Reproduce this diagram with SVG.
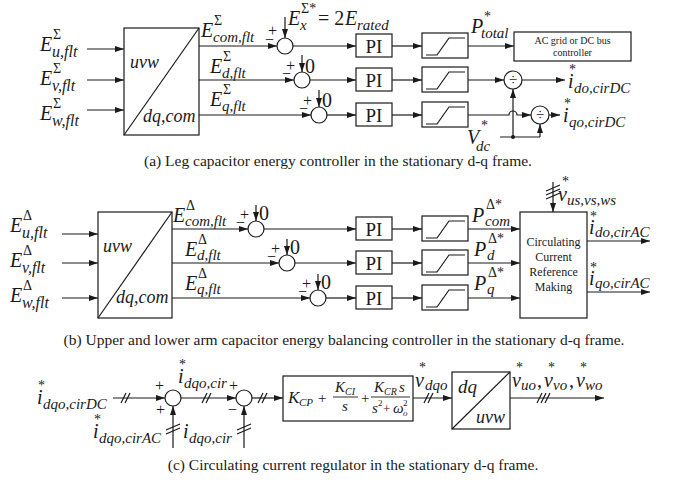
<svg xmlns="http://www.w3.org/2000/svg" width="674" height="483" viewBox="0 0 674 483">
<style>
text{font-family:"Liberation Serif","Times New Roman",serif;fill:#1a1a1a}
.m{font-style:italic;font-size:20px}
.sb{font-style:italic;font-size:15px}
.sp{font-style:normal;font-size:14px}
.r{font-style:normal;font-size:20px}
.pm{font-size:16px}
.cap{font-size:15.5px;text-anchor:middle}
.bx{fill:#fff;stroke:#1a1a1a;stroke-width:1.2}
.ln{fill:none;stroke:#1a1a1a;stroke-width:1.2}
.ar{fill:none;stroke:#1a1a1a;stroke-width:1.2;marker-end:url(#ah)}
.sm{font-size:10px;text-anchor:middle}
.cc{font-size:12px;text-anchor:middle}
.pi{font-size:19px;text-anchor:middle}
.dv{font-size:15px;text-anchor:middle}
.in{font-style:italic;font-size:16px}
</style>
<defs>
<marker id="ah" markerWidth="9" markerHeight="6" refX="9" refY="3" orient="auto" markerUnits="userSpaceOnUse"><path d="M0,0 L9,3 L0,6 z" fill="#1a1a1a"/></marker>
<g id="lim"><rect class="bx" x="0" y="0" width="46" height="25"/><polyline class="ln" points="4,22 15,22 27,5 43,5"/></g>
</defs>

<g id="connectors">
<line class="ar" x1="87" y1="49" x2="124" y2="49"/>
<line class="ar" x1="87" y1="80" x2="124" y2="80"/>
<line class="ar" x1="87" y1="110" x2="124" y2="110"/>
<line class="ar" x1="199" y1="46" x2="277" y2="46"/>
<line class="ar" x1="199" y1="80" x2="294" y2="80"/>
<line class="ar" x1="199" y1="115" x2="311" y2="115"/>
<line class="ar" x1="285" y1="17" x2="285" y2="38"/>
<line class="ar" x1="302" y1="55" x2="302" y2="72"/>
<line class="ar" x1="319" y1="90" x2="319" y2="107"/>
<line class="ar" x1="293" y1="46" x2="356" y2="46"/>
<line class="ar" x1="310" y1="80" x2="356" y2="80"/>
<line class="ar" x1="327" y1="115" x2="356" y2="115"/>
<line class="ar" x1="392" y1="46" x2="422" y2="46"/>
<line class="ar" x1="392" y1="80" x2="422" y2="80"/>
<line class="ar" x1="392" y1="115" x2="422" y2="115"/>
<line class="ar" x1="468" y1="46" x2="514" y2="46"/>
<line class="ar" x1="468" y1="80" x2="504" y2="80"/>
<path class="ar" d="M468,115 H509 A4,4 0 0 1 517,115 H531"/>
<line class="ar" x1="522" y1="80" x2="565" y2="80"/>
<line class="ar" x1="549" y1="115" x2="560" y2="115"/>
<line class="ln" x1="500" y1="137" x2="540" y2="137"/>
<line class="ar" x1="513" y1="137" x2="513" y2="89"/>
<line class="ar" x1="540" y1="137" x2="540" y2="124"/>
<circle cx="513" cy="137" r="2" fill="#1a1a1a"/>
<line class="ar" x1="62" y1="234" x2="98" y2="234"/>
<line class="ar" x1="62" y1="263" x2="98" y2="263"/>
<line class="ar" x1="62" y1="298" x2="98" y2="298"/>
<line class="ar" x1="172" y1="229" x2="248" y2="229"/>
<line class="ar" x1="172" y1="263" x2="279" y2="263"/>
<line class="ar" x1="172" y1="298" x2="310" y2="298"/>
<line class="ar" x1="256" y1="205" x2="256" y2="221"/>
<line class="ar" x1="287" y1="239" x2="287" y2="255"/>
<line class="ar" x1="318" y1="274" x2="318" y2="290"/>
<line class="ar" x1="264" y1="229" x2="356" y2="229"/>
<line class="ar" x1="295" y1="263" x2="356" y2="263"/>
<line class="ar" x1="326" y1="298" x2="356" y2="298"/>
<line class="ar" x1="392" y1="229" x2="422" y2="229"/>
<line class="ar" x1="392" y1="263" x2="422" y2="263"/>
<line class="ar" x1="392" y1="298" x2="422" y2="298"/>
<line class="ar" x1="468" y1="229" x2="520" y2="229"/>
<line class="ar" x1="468" y1="263" x2="520" y2="263"/>
<line class="ar" x1="468" y1="298" x2="520" y2="298"/>
<line class="ar" x1="553" y1="182" x2="553" y2="212"/>
<path class="ln" d="M546,191 L560,185 M546,195 L560,189 M546,199 L560,193"/>
<line class="ar" x1="587" y1="241" x2="650" y2="241"/>
<line class="ar" x1="587" y1="292" x2="650" y2="292"/>
<line class="ar" x1="113" y1="398" x2="165" y2="398"/>
<path class="ln" d="M121,403 L126,393 M125,403 L130,393"/>
<line class="ar" x1="173" y1="448" x2="173" y2="406"/>
<path class="ln" d="M166,430 L180,424 M166,434 L180,428"/>
<line class="ar" x1="181" y1="398" x2="236" y2="398"/>
<path class="ln" d="M202,403 L207,393 M206,403 L211,393"/>
<line class="ar" x1="244" y1="448" x2="244" y2="406"/>
<path class="ln" d="M237,430 L251,424 M237,434 L251,428"/>
<line class="ar" x1="252" y1="398" x2="283" y2="398"/>
<path class="ln" d="M258,403 L263,393 M262,403 L267,393"/>
<line class="ar" x1="413" y1="398" x2="452" y2="398"/>
<path class="ln" d="M424,403 L429,393 M428,403 L433,393"/>
<line class="ar" x1="510" y1="398" x2="604" y2="398"/>
<path class="ln" d="M537,403 L542,393 M541,403 L546,393 M545,403 L550,393"/>
</g>

<g id="a-inputs">
<text class="m" x="40" y="51">E<tspan class="sp" x="53" y="39">Σ</tspan><tspan class="in" x="52" y="57">u,flt</tspan></text>
<text class="m" x="40" y="85">E<tspan class="sp" x="53" y="73">Σ</tspan><tspan class="in" x="52" y="91">v,flt</tspan></text>
<text class="m" x="40" y="120">E<tspan class="sp" x="53" y="108">Σ</tspan><tspan class="in" x="52" y="126">w,flt</tspan></text>
</g>
<g id="a-uvw">
<rect class="bx" x="124" y="28" width="75" height="107"/>
<line class="ln" x1="124" y1="135" x2="199" y2="28"/>
<text class="m" x="130" y="68" style="font-size:18px">uvw</text>
<text class="m" x="143" y="122" style="font-size:18px">dq,com</text>
</g>
<g id="a-labels">
<text class="m" x="201" y="37">E<tspan class="sp" x="214" y="25">Σ</tspan><tspan class="sb" x="213" y="42">com,flt</tspan></text>
<text class="m" x="210" y="73">E<tspan class="sp" x="223" y="61">Σ</tspan><tspan class="sb" x="222" y="78">d,flt</tspan></text>
<text class="m" x="210" y="106">E<tspan class="sp" x="223" y="94">Σ</tspan><tspan class="sb" x="222" y="111">q,flt</tspan></text>
</g>
<g id="a-sum1">
<circle class="bx" cx="285" cy="46" r="8"/>
<text class="pm"><tspan x="268" y="36">+</tspan><tspan x="265" y="45">−</tspan></text>
<text class="m" x="288" y="25">E<tspan class="sp" x="301" y="13">Σ*</tspan><tspan class="sb" x="300" y="30">x</tspan><tspan class="r" x="318" y="25">= 2</tspan><tspan x="345" y="25">E</tspan><tspan class="sb" x="357" y="30">rated</tspan></text>
</g>
<g id="a-sum2">
<circle class="bx" cx="302" cy="80" r="8"/>
<text class="pm"><tspan x="286" y="71">+</tspan><tspan x="282" y="79">−</tspan></text>
<text class="r" x="305" y="73">0</text>
</g>
<g id="a-sum3">
<circle class="bx" cx="319" cy="115" r="8"/>
<text class="pm"><tspan x="303" y="106">+</tspan><tspan x="299" y="114">−</tspan></text>
<text class="r" x="322" y="107">0</text>
</g>
<g id="a-pi1"><rect class="bx" x="356" y="34" width="36" height="23"/><text class="pi" x="374" y="53">PI</text></g>
<g id="a-pi2"><rect class="bx" x="356" y="68" width="36" height="23"/><text class="pi" x="374" y="87">PI</text></g>
<g id="a-pi3"><rect class="bx" x="356" y="103" width="36" height="23"/><text class="pi" x="374" y="122">PI</text></g>
<g id="a-lim1"><use href="#lim" x="422" y="33"/></g>
<g id="a-lim2"><use href="#lim" x="422" y="67"/></g>
<g id="a-lim3"><use href="#lim" x="422" y="102"/></g>
<g id="a-ptotal"><text class="m" x="471" y="33">P<tspan class="sp" x="484" y="21">*</tspan><tspan class="sb" x="481" y="38">total</tspan></text></g>
<g id="a-grid">
<rect class="bx" x="514" y="32" width="117" height="29"/>
<text class="sm" x="572.5" y="44">AC grid or DC bus</text>
<text class="sm" x="572.5" y="56">controller</text>
</g>
<g id="a-div1"><circle class="bx" cx="513" cy="80" r="9"/><text class="dv" x="513" y="85">÷</text></g>
<g id="a-div2"><circle class="bx" cx="540" cy="115" r="9"/><text class="dv" x="540" y="120">÷</text></g>
<g id="a-out">
<text class="m" x="568" y="88">i<tspan class="sp" x="569" y="74">*</tspan><tspan class="sb" x="574" y="93">do,cirDC</tspan></text>
<text class="m" x="563" y="122">i<tspan class="sp" x="564" y="108">*</tspan><tspan class="sb" x="569" y="127">qo,cirDC</tspan></text>
</g>
<g id="a-vdc"><text class="m" x="467" y="144">V<tspan class="sp" x="481" y="130">*</tspan><tspan class="sb" x="476" y="151">dc</tspan></text></g>
<text class="cap" x="338" y="166">(a) Leg capacitor energy controller in the stationary d-q frame.</text>

<g id="b-inputs">
<text class="m" x="10" y="232">E<tspan class="sp" x="23" y="220">Δ</tspan><tspan class="in" x="22" y="238">u,flt</tspan></text>
<text class="m" x="10" y="267">E<tspan class="sp" x="23" y="255">Δ</tspan><tspan class="in" x="22" y="273">v,flt</tspan></text>
<text class="m" x="10" y="302">E<tspan class="sp" x="23" y="290">Δ</tspan><tspan class="in" x="22" y="308">w,flt</tspan></text>
</g>
<g id="b-uvw">
<rect class="bx" x="98" y="212" width="74" height="106"/>
<line class="ln" x1="98" y1="318" x2="172" y2="212"/>
<text class="m" x="103" y="252" style="font-size:18px">uvw</text>
<text class="m" x="116" y="303" style="font-size:18px">dq,com</text>
</g>
<g id="b-labels">
<text class="m" x="173" y="222">E<tspan class="sp" x="186" y="210">Δ</tspan><tspan class="sb" x="185" y="226">com,flt</tspan></text>
<text class="m" x="185" y="256">E<tspan class="sp" x="198" y="244">Δ</tspan><tspan class="sb" x="197" y="260">d,flt</tspan></text>
<text class="m" x="185" y="290">E<tspan class="sp" x="198" y="278">Δ</tspan><tspan class="sb" x="197" y="294">q,flt</tspan></text>
</g>
<g id="b-sum1"><circle class="bx" cx="256" cy="229" r="8"/><text class="pm"><tspan x="240" y="220">+</tspan><tspan x="236" y="228">−</tspan></text><text class="r" x="259" y="220">0</text></g>
<g id="b-sum2"><circle class="bx" cx="287" cy="263" r="8"/><text class="pm"><tspan x="271" y="254">+</tspan><tspan x="267" y="262">−</tspan></text><text class="r" x="290" y="254">0</text></g>
<g id="b-sum3"><circle class="bx" cx="318" cy="298" r="8"/><text class="pm"><tspan x="302" y="289">+</tspan><tspan x="298" y="297">−</tspan></text><text class="r" x="321" y="289">0</text></g>
<g id="b-pi1"><rect class="bx" x="356" y="217" width="36" height="23"/><text class="pi" x="374" y="236">PI</text></g>
<g id="b-pi2"><rect class="bx" x="356" y="251" width="36" height="23"/><text class="pi" x="374" y="270">PI</text></g>
<g id="b-pi3"><rect class="bx" x="356" y="286" width="36" height="23"/><text class="pi" x="374" y="305">PI</text></g>
<g id="b-lim1"><use href="#lim" x="422" y="216"/></g>
<g id="b-lim2"><use href="#lim" x="422" y="250"/></g>
<g id="b-lim3"><use href="#lim" x="422" y="285"/></g>
<g id="b-plabels">
<text class="m" x="472" y="222">P<tspan class="sp" x="486" y="209">Δ*</tspan><tspan class="sb" x="485" y="226">com</tspan></text>
<text class="m" x="474" y="256">P<tspan class="sp" x="488" y="243">Δ*</tspan><tspan class="sb" x="487" y="260">d</tspan></text>
<text class="m" x="474" y="290">P<tspan class="sp" x="488" y="277">Δ*</tspan><tspan class="sb" x="487" y="294">q</tspan></text>
</g>
<g id="b-ccrm">
<rect class="bx" x="520" y="212" width="67" height="106"/>
<text class="cc" x="553.5" y="246">Circulating</text>
<text class="cc" x="553.5" y="261">Current</text>
<text class="cc" x="553.5" y="276">Reference</text>
<text class="cc" x="553.5" y="291">Making</text>
</g>
<g id="b-vus"><text class="m" x="558" y="201">v<tspan class="sp" x="562" y="186">*</tspan><tspan class="sb" x="567" y="205">us,vs,ws</tspan></text></g>
<g id="b-out">
<text class="m" x="589" y="234">i<tspan class="sp" x="590" y="221">*</tspan><tspan class="sb" x="595" y="237">do,cirAC</tspan></text>
<text class="m" x="589" y="285">i<tspan class="sp" x="590" y="272">*</tspan><tspan class="sb" x="595" y="288">qo,cirAC</tspan></text>
</g>
<text class="cap" x="344" y="345">(b) Upper and lower arm capacitor energy balancing controller in the stationary d-q frame.</text>

<g id="c-in">
<text class="m" x="37" y="404">i<tspan class="sp" x="38" y="390">*</tspan><tspan class="sb" x="43" y="409">dqo,cirDC</tspan></text>
<text class="m" x="93" y="438">i<tspan class="sp" x="94" y="424">*</tspan><tspan class="sb" x="99" y="443">dqo,cirAC</tspan></text>
</g>
<g id="c-sum1"><circle class="bx" cx="173" cy="398" r="8"/><text class="pm"><tspan x="155" y="391">+</tspan><tspan x="156" y="415">+</tspan></text></g>
<g id="c-mid"><text class="m" x="178" y="383">i<tspan class="sp" x="179" y="369">*</tspan><tspan class="sb" x="184" y="388">dqo,cir</tspan></text></g>
<g id="c-sum2"><circle class="bx" cx="244" cy="398" r="8"/><text class="pm"><tspan x="229" y="391">+</tspan><tspan x="228" y="415">−</tspan></text></g>
<g id="c-fb"><text class="m" x="183" y="438">i<tspan class="sb" x="189" y="443">dqo,cir</tspan></text></g>
<g id="c-ctrl">
<rect class="bx" x="283" y="376" width="130" height="45"/>
<line class="ln" x1="333" y1="397" x2="358" y2="397" style="stroke-width:0.9"/>
<line class="ln" x1="371" y1="397" x2="410" y2="397" style="stroke-width:0.9"/>
<text class="m" x="288" y="403" style="font-size:17px">K<tspan class="sb" x="299" y="406" style="font-size:11px">CP</tspan><tspan class="r" x="318" y="403" style="font-size:15px">+</tspan><tspan x="335" y="392" style="font-size:15px">K</tspan><tspan class="sb" x="345" y="395" style="font-size:10px">CI</tspan><tspan x="342" y="411" style="font-size:15px">s</tspan><tspan class="r" x="361" y="403" style="font-size:15px">+</tspan><tspan x="374" y="392" style="font-size:15px">K</tspan><tspan class="sb" x="384" y="395" style="font-size:10px">CR</tspan><tspan x="399" y="392" style="font-size:15px">s</tspan><tspan x="372" y="413" style="font-size:15px">s</tspan><tspan class="r" x="378" y="406" style="font-size:9px">2</tspan><tspan class="r" x="383" y="413" style="font-size:13px">+</tspan><tspan x="393" y="413" style="font-size:15px">ω</tspan><tspan class="sb" x="403" y="416" style="font-size:9px">o</tspan><tspan class="r" x="403" y="406" style="font-size:9px">2</tspan></text>
</g>
<g id="c-vdqo"><text class="m" x="415" y="387">v<tspan class="sp" x="419" y="372">*</tspan><tspan class="sb" x="425" y="390">dqo</tspan></text></g>
<g id="c-dq">
<rect class="bx" x="452" y="372" width="58" height="57"/>
<line class="ln" x1="452" y1="429" x2="510" y2="372"/>
<text class="m" x="458" y="393" style="font-size:19px">dq</text>
<text class="m" x="476" y="423" style="font-size:18px">uvw</text>
</g>
<g id="c-out">
<text class="m" x="512" y="387">v<tspan class="sp" x="516" y="372">*</tspan><tspan class="sb" x="521" y="390">uo</tspan><tspan class="r" x="537" y="387">,</tspan><tspan x="544" y="387">v</tspan><tspan class="sp" x="548" y="372">*</tspan><tspan class="sb" x="553" y="390">vo</tspan><tspan class="r" x="569" y="387">,</tspan><tspan x="576" y="387">v</tspan><tspan class="sp" x="580" y="372">*</tspan><tspan class="sb" x="585" y="390">wo</tspan></text>
</g>
<text class="cap" x="353" y="470">(c) Circulating current regulator in the stationary d-q frame.</text>
</svg>
